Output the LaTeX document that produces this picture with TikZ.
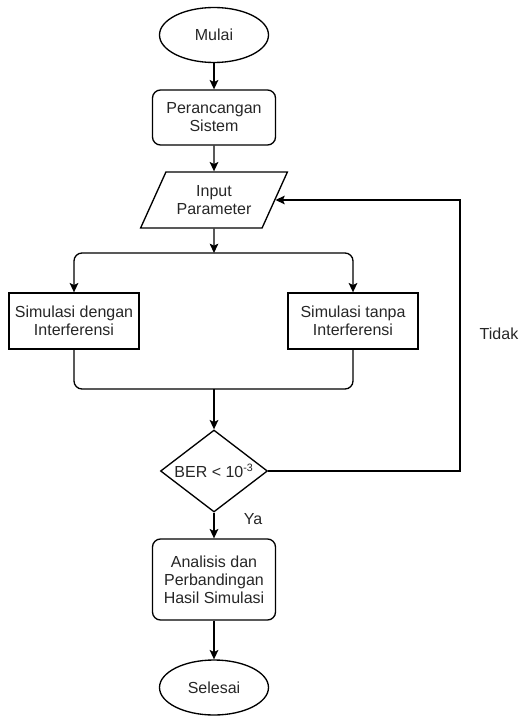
\documentclass[tikz,border=0pt]{standalone}
\usepackage{fontspec}
\setmainfont{Liberation Sans}
\usetikzlibrary{shapes.geometric,arrows.meta}
\begin{document}
\begin{tikzpicture}[x=0.75pt,y=-0.75pt,
  base/.style={draw, line width=1pt, align=center, font=\fontsize{12}{13.5}\selectfont, text=black!85, inner sep=0pt},
  term/.style={base, ellipse, minimum width=81.75pt, minimum height=41.25pt},
  proc/.style={base, rectangle, rounded corners=6pt, minimum width=92.25pt, minimum height=41.25pt},
  sim/.style={base, rectangle, minimum width=97.5pt, minimum height=42pt},
  io/.style={base, trapezium, trapezium left angle=56, trapezium right angle=124, trapezium stretches=true, minimum width=111pt, minimum height=42pt},
  dec/.style={base, diamond, aspect=1.3, minimum width=80.25pt, minimum height=61.5pt},
  conn/.style={line width=1pt, -{Stealth[length=7pt,width=6.5pt,inset=1.5pt]}},
  line/.style={line width=1pt},
  lbl/.style={font=\fontsize{12}{13.5}\selectfont, text=black!85, inner sep=0pt}
]
\useasboundingbox (0,0) rectangle (520,717);
\node[term] (mulai) at (214,35) {Mulai};
\node[proc] (peran) at (214,117.5) {Perancangan\\Sistem};
\node[io] (input) at (214,200) {Input\\Parameter};
\coordinate (split) at (214,253);
\node[sim] (sim1) at (74,321) {Simulasi dengan\\Interferensi};
\node[sim] (sim2) at (353,321) {Simulasi tanpa\\Interferensi};
\coordinate (merge) at (214,389);
\node[dec] (ber) at (214,471) {BER < 10\textsuperscript{-3}};
\node[proc, minimum height=60.75pt] (ana) at (214,579.5) {Analisis dan\\Perbandingan\\Hasil Simulasi};
\node[term] (selesai) at (214,687.5) {Selesai};
\coordinate (fb) at (460,471);
\node[lbl] (tidak) at (499,334) {Tidak};
\node[lbl] (ya) at (253,519) {Ya};

\draw[conn] (mulai) -- (peran);
\draw[conn] (peran) -- (input);
\draw[conn] (input) -- (split);
\draw[conn, rounded corners=6pt] (split) -| (sim1);
\draw[conn, rounded corners=6pt] (split) -| (sim2);
\draw[line, rounded corners=6pt] (sim1.south) |- (merge) -| (sim2.south);
\draw[conn] (merge) -- (ber);
\draw[conn] (ber) -- (ana);
\draw[conn] (ana) -- (selesai);
\draw[conn] (ber.east) -- (fb) |- (input);
\end{tikzpicture}
\end{document}
